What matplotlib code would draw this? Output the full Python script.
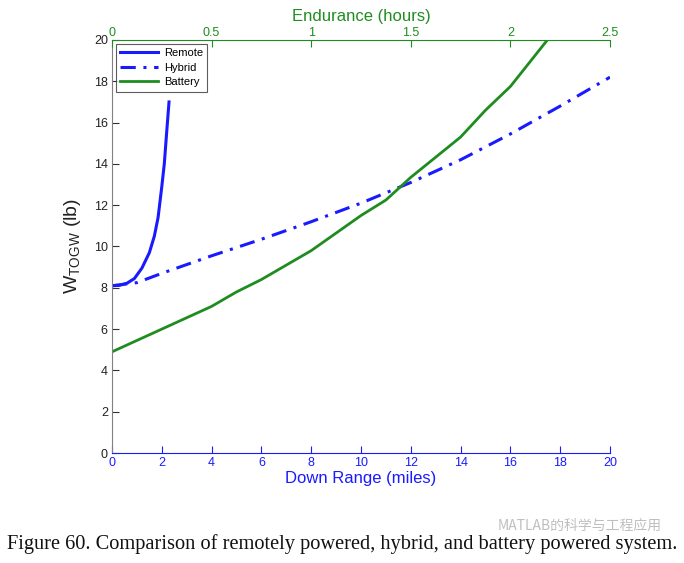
import matplotlib
matplotlib.use("Agg")
import matplotlib.pyplot as plt

# Data
remote_x = [0, 0.3, 0.6, 0.9, 1.2, 1.5, 1.7, 1.85, 2.0, 2.1, 2.2, 2.29]
remote_y = [8.1, 8.12, 8.22, 8.45, 8.95, 9.7, 10.5, 11.4, 12.9, 14.0, 15.6, 17.0]

hybrid_x = [0, 1, 2, 4, 6, 8, 10, 12, 14, 16, 18, 20]
hybrid_y = [8.1, 8.25, 8.7, 9.55, 10.35, 11.2, 12.1, 13.1, 14.2, 15.45, 16.8, 18.2]

battery_x = [0, 2, 4, 5, 6, 8, 10, 11, 12, 14, 15, 16, 17.55]
battery_y = [4.9, 6.0, 7.1, 7.8, 8.4, 9.8, 11.5, 12.25, 13.35, 15.3, 16.6, 17.75, 20.1]

range_ticks = [0, 2, 4, 6, 8, 10, 12, 14, 16, 18, 20]
endurance_ticks = [0, 0.5, 1, 1.5, 2, 2.5]
endurance_labels = ["0", "0.5", "1", "1.5", "2", "2.5"]
weight_ticks = [0, 2, 4, 6, 8, 10, 12, 14, 16, 18, 20]

BLUE = "#1a1aff"
GREEN = "#1f8c1f"
GRAY = "#808080"

plt.rcParams['font.family'] = ['Liberation Sans', 'DejaVu Sans']

fig = plt.figure(figsize=(6.84, 5.63), dpi=100)
ax = fig.add_axes([112/684, 1-453/563, (610-112)/684, (453-40)/563])

ax.plot(remote_x, remote_y, color=BLUE, lw=2.2, label="Remote")
ax.plot(hybrid_x, hybrid_y, color=BLUE, lw=2.2, ls=(0, (5, 2.5, 1, 2.5)), label="Hybrid")
ax.plot(battery_x, battery_y, color=GREEN, lw=2.0, label="Battery", clip_on=True)

ax.set_xlim(0, 20)
ax.set_ylim(0, 20)
ax.set_xticks(range_ticks)
ax.set_yticks(weight_ticks)
ax.tick_params(axis='x', direction='in', colors=BLUE, labelsize=9, length=5, pad=3)
ax.tick_params(axis='y', direction='in', colors='#333333', labelsize=9, length=5, pad=3)
for lab in ax.get_yticklabels():
    lab.set_color('#222222')
ax.spines['right'].set_visible(False)
ax.spines['top'].set_visible(False)
ax.spines['bottom'].set_color(BLUE)
ax.spines['left'].set_color(GRAY)
ax.set_xlabel("Down Range (miles)", color=BLUE, fontsize=12, labelpad=1)
ax.set_ylabel(r"W$_{\mathregular{TOGW}}$ (lb)", color='#222222', fontsize=14, labelpad=8)

leg = ax.legend(loc='upper left', fontsize=8, frameon=True, fancybox=False,
                edgecolor='#333333', borderaxespad=0.35, handlelength=3.4,
                labelspacing=0.4, borderpad=0.4, handletextpad=0.5)
leg.get_frame().set_linewidth(0.8)

ax2 = ax.twiny()
ax2.set_xlim(0, 2.5)
ax2.set_xticks(endurance_ticks)
ax2.set_xticklabels(endurance_labels)
ax2.tick_params(axis='x', direction='in', colors=GREEN, labelsize=9, length=5, pad=1)
for s in ['left', 'right', 'bottom']:
    ax2.spines[s].set_visible(False)
ax2.spines['top'].set_color(GREEN)
ax2.set_xlabel("Endurance (hours)", color=GREEN, fontsize=12, labelpad=4)

fig.text(0.5, 1-549/563, "Figure 60. Comparison of remotely powered, hybrid, and battery powered system.",
         family=['Liberation Serif', 'DejaVu Serif'], fontsize=14.7, ha='center', va='baseline', color='#111111')
fig.text(662/684, 1-526/563, "MATLAB的科学与工程应用",
         family=['Noto Sans CJK SC', 'DejaVu Sans'], fontsize=10, ha='right', va='center',
         color='#b8b8b8', alpha=0.9)

fig.savefig("out.png", dpi=100)
